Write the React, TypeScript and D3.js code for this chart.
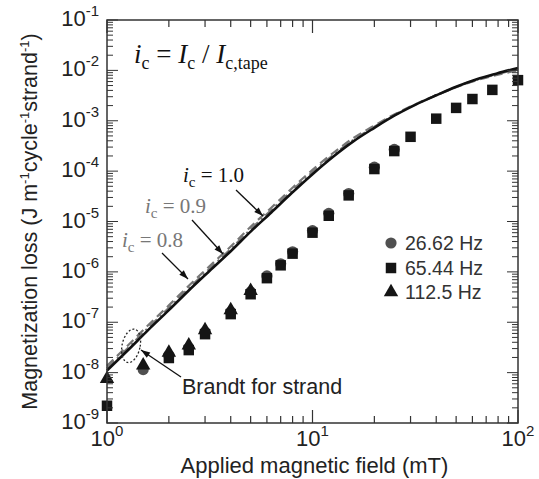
import React from 'react';
import * as d3 from 'd3';

const sqField = [1, 2, 2.5, 3, 4, 5, 6, 7, 8, 10, 12, 15, 20, 25, 30, 40, 50, 60, 75, 100];
const sqLoss = [2.2e-9, 1.95e-8, 2.8e-8, 5.8e-8, 1.45e-7, 3.6e-7, 7.5e-7, 1.35e-6, 2.3e-6, 6.0e-6, 1.3e-5, 3.3e-5, 1.1e-4, 2.5e-4, 4.8e-4, 1.1e-3, 1.8e-3, 2.7e-3, 4.1e-3, 6.4e-3];

const circField = [1.5, 2, 2.5, 3, 4, 5, 6, 7, 8, 10, 12, 15, 20, 25];
const circLoss = [1.15e-8, 2.2e-8, 3.1e-8, 6.4e-8, 1.6e-7, 4.0e-7, 8.3e-7, 1.45e-6, 2.5e-6, 6.6e-6, 1.45e-5, 3.6e-5, 1.2e-4, 2.7e-4];

const triField = [1, 1.5, 2, 2.5, 3, 4, 5];
const triLoss = [7.5e-9, 1.4e-8, 2.5e-8, 3.5e-8, 7.0e-8, 1.75e-7, 4.2e-7];

// Brandt curves
const curveField = [1, 1.26, 1.58, 2, 2.5, 3.16, 4, 5, 6.3, 7.9, 10, 12.6, 15.8, 20, 25, 31.6, 40, 50, 63, 79, 100];
const brandt10 = [1.1e-8, 2.75e-8, 6.9e-8, 1.74e-7, 4.27e-7, 1.05e-6, 2.57e-6, 6.3e-6, 1.51e-5, 3.63e-5, 8.7e-5, 1.93e-4, 3.89e-4, 7.24e-4, 1.26e-3, 2.07e-3, 3.2e-3, 4.73e-3, 6.68e-3, 8.7e-3, 1.12e-2];
const brandt09 = [1.22e-8, 3.05e-8, 7.67e-8, 1.93e-7, 4.73e-7, 1.16e-6, 2.85e-6, 7.0e-6, 1.68e-5, 4.03e-5, 9.55e-5, 2.09e-4, 4.17e-4, 7.59e-4, 1.29e-3, 2.09e-3, 3.2e-3, 4.68e-3, 6.53e-3, 8.41e-3, 1.06e-2];
const brandt08 = [1.36e-8, 3.43e-8, 8.6e-8, 2.16e-7, 5.31e-7, 1.3e-6, 3.2e-6, 7.85e-6, 1.88e-5, 4.47e-5, 1.06e-4, 2.29e-4, 4.52e-4, 8.04e-4, 1.33e-3, 2.11e-3, 3.2e-3, 4.62e-3, 6.38e-3, 8.13e-3, 1.0e-2];

const legendLabels = ['26.62 Hz', '65.44 Hz', '112.5 Hz'];
const xTickExp = [0, 1, 2];
const yTickExp = [-9, -8, -7, -6, -5, -4, -3, -2, -1];

const W = 539;
const H = 479;
const left = 107, right = 518, top = 20, bottom = 423;
const axisColor = '#333';
const sans = "'Liberation Sans', Arial, Helvetica, sans-serif";
const serif = "'Liberation Serif', 'Times New Roman', serif";

function Pow10({ x, y, e, anchor }: { x: number; y: number; e: number; anchor: string }) {
  return (
    <text x={x} y={y} textAnchor={anchor} fontFamily={sans} fontSize={22} fill="#222">
      10<tspan dy={-10} fontSize={15}>{e}</tspan>
    </text>
  );
}

export default function App() {
  const x = d3.scaleLog().domain([1, 100]).range([left, right]);
  const y = d3.scaleLog().domain([1e-9, 1e-1]).range([bottom, top]);

  const isMajor = (v: number) => Math.abs(Math.log10(v) - Math.round(Math.log10(v))) < 1e-6;
  const xt = x.ticks();
  const yt = y.ticks();

  const line = d3.line<number>()
    .x((d, i) => x(curveField[i]))
    .y(d => y(d))
    .curve(d3.curveMonotoneX);

  const tri = d3.symbol().type(d3.symbolTriangle).size(90)();
  const sq = d3.symbol().type(d3.symbolSquare).size(110)();

  const legY = [243, 268, 292];
  const legX = 391;

  return (
    <svg width={W} height={H} style={{ position: 'absolute', left: 0, top: 0, background: '#fff' }}>
      <defs>
        <marker id="ah" viewBox="0 0 10 10" refX="10" refY="5" markerWidth="9" markerHeight="7" orient="auto">
          <path d="M0,1.5 L10,5 L0,8.5 Z" fill="#111" />
        </marker>
      </defs>

      {/* curves */}
      <path d={line(brandt08) || ''} fill="none" stroke="#777" strokeWidth={2.2} strokeDasharray="9,5" />
      <path d={line(brandt09) || ''} fill="none" stroke="#777" strokeWidth={2.2} strokeDasharray="10,4,2,4" />
      <path d={line(brandt10) || ''} fill="none" stroke="#111" strokeWidth={2.6} />

      {/* markers */}
      {circField.map((f, i) => (
        <circle key={'c' + i} cx={x(f)} cy={y(circLoss[i])} r={5.6} fill="#505050" />
      ))}
      {triField.map((f, i) => (
        <path key={'t' + i} d={tri || ''} transform={`translate(${x(f)},${y(triLoss[i])})`} fill="#151515" />
      ))}
      {sqField.map((f, i) => (
        <path key={'s' + i} d={sq || ''} transform={`translate(${x(f)},${y(sqLoss[i])})`} fill="#151515" />
      ))}

      {/* frame */}
      <rect x={left} y={top} width={right - left} height={bottom - top} fill="none" stroke={axisColor} strokeWidth={1.5} />
      {xt.map((v, i) => {
        const len = isMajor(v) ? 13 : 7;
        const px = x(v);
        return (
          <g key={'xt' + i} stroke={axisColor} strokeWidth={1.2}>
            <line x1={px} x2={px} y1={bottom} y2={bottom - len} />
            <line x1={px} x2={px} y1={top} y2={top + len} />
          </g>
        );
      })}
      {yt.map((v, i) => {
        const len = isMajor(v) ? 11 : 6;
        const py = y(v);
        return (
          <g key={'yt' + i} stroke={axisColor} strokeWidth={1}>
            <line x1={left} x2={left + len} y1={py} y2={py} />
            <line x1={right} x2={right - len} y1={py} y2={py} />
          </g>
        );
      })}

      {/* tick labels */}
      {xTickExp.map(e => (
        <Pow10 key={'xl' + e} x={x(Math.pow(10, e))} y={446} e={e} anchor="middle" />
      ))}
      {yTickExp.map(e => (
        <Pow10 key={'yl' + e} x={99} y={y(Math.pow(10, e)) + 6} e={e} anchor="end" />
      ))}

      {/* axis titles */}
      <text x={(left + right) / 2 + 2} y={473} textAnchor="middle" fontFamily={sans} fontSize={22} fill="#222">
        Applied magnetic field (mT)
      </text>
      <text transform={`translate(37,${(top + bottom) / 2}) rotate(-90)`} textAnchor="middle" fontFamily={sans} fontSize={21.5} fill="#222">
        Magnetization loss (J m<tspan dy={-8} fontSize={13}>-1</tspan>
        <tspan dy={8}>cycle</tspan><tspan dy={-8} fontSize={13}>-1</tspan>
        <tspan dy={8}>strand</tspan><tspan dy={-8} fontSize={13}>-1</tspan>
        <tspan dy={8}>)</tspan>
      </text>

      {/* equation */}
      <text x={134} y={63} fontFamily={serif} fontSize={27} fill="#111">
        <tspan fontStyle="italic">i</tspan><tspan fontSize={18} dy={6}>c</tspan>
        <tspan dy={-6}> = </tspan><tspan fontStyle="italic">I</tspan><tspan fontSize={18} dy={6}>c</tspan>
        <tspan dy={-6}> / </tspan><tspan fontStyle="italic">I</tspan><tspan fontSize={18} dy={6}>c,tape</tspan>
      </text>

      {/* ic labels with arrows */}
      <text x={183} y={182} fontFamily={serif} fontSize={21} fill="#111">
        <tspan fontStyle="italic">i</tspan><tspan fontSize={15} dy={5}>c</tspan><tspan dy={-5}> = 1.0</tspan>
      </text>
      <line x1={236} y1={190} x2={263} y2={216} stroke="#111" strokeWidth={1.3} markerEnd="url(#ah)" />
      <text x={145} y={213} fontFamily={serif} fontSize={21} fill="#777">
        <tspan fontStyle="italic">i</tspan><tspan fontSize={15} dy={5}>c</tspan><tspan dy={-5}> = 0.9</tspan>
      </text>
      <line x1={192} y1={220} x2={223} y2={254} stroke="#111" strokeWidth={1.3} markerEnd="url(#ah)" />
      <text x={122} y={247} fontFamily={serif} fontSize={21} fill="#777">
        <tspan fontStyle="italic">i</tspan><tspan fontSize={15} dy={5}>c</tspan><tspan dy={-5}> = 0.8</tspan>
      </text>
      <line x1={162} y1={253} x2={188} y2={279} stroke="#111" strokeWidth={1.3} markerEnd="url(#ah)" />

      {/* Brandt for strand */}
      <ellipse cx={x(1.31)} cy={y(3.4e-8)} rx={9} ry={17} fill="none" stroke="#222" strokeWidth={1.3} strokeDasharray="2,2" transform={`rotate(12,${x(1.31)},${y(3.4e-8)})`} />
      <line x1={181} y1={377} x2={141} y2={350} stroke="#111" strokeWidth={1.3} markerEnd="url(#ah)" />
      <text x={182} y={394} fontFamily={sans} fontSize={21.5} fill="#222">Brandt for strand</text>

      {/* legend */}
      <circle cx={legX} cy={legY[0]} r={5.6} fill="#505050" />
      <path d={sq || ''} transform={`translate(${legX},${legY[1]})`} fill="#151515" />
      <path d={tri || ''} transform={`translate(${legX},${legY[2]})`} fill="#151515" />
      {legendLabels.map((t, i) => (
        <text key={t} x={405} y={legY[i] + 7} fontFamily={sans} fontSize={19.5} fill="#333">{t}</text>
      ))}
    </svg>
  );
}
